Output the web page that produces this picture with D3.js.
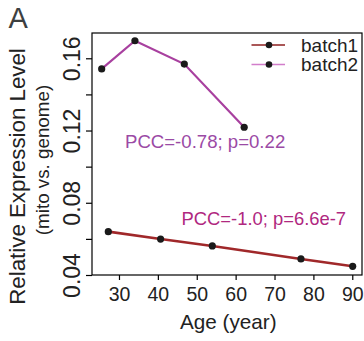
<!DOCTYPE html>
<html><head><meta charset="utf-8">
<script src="https://cdn.jsdelivr.net/npm/d3@7"></script>
<style>
body{margin:0;background:#fff;}
svg{display:block;font-family:"Liberation Sans",Arial,Helvetica,sans-serif;}
</style></head>
<body><svg id="c" width="364" height="341"></svg>
<script>
const batch1Ages = [27.25, 40.7, 54, 76.8, 90.1];
const batch1Vals = [0.0640, 0.0599, 0.0561, 0.0489, 0.0448];
const batch2Ages = [25.55, 34.1, 46.8, 62.2];
const batch2Vals = [0.1541, 0.1697, 0.1568, 0.1218];
const xTicks = [30, 40, 50, 60, 70, 80, 90];
const yTicks = [0.04, 0.06, 0.08, 0.10, 0.12, 0.14, 0.16];
const yLabels = [0.04, 0.08, 0.12, 0.16];
const seriesNames = ["batch1", "batch2"];
const pccTexts = ["PCC=-0.78; p=0.22", "PCC=-1.0; p=6.6e-7"];

const svg = d3.select("#c");
const L = 92, R = 362, T = 33, B = 275;
const x = d3.scaleLinear().domain([23.06, 92.5]).range([L, R]);
const y = d3.scaleLinear().domain([0.04, 0.174]).range([B, T]);

const red = "#a0282a", purple = "#a8409f";

// box
svg.append("rect").attr("x", L).attr("y", T).attr("width", R - L).attr("height", B - T)
  .attr("fill", "none").attr("stroke", "#000").attr("stroke-width", 1.2);

// x axis
const gx = svg.append("g").attr("transform", `translate(0,${B})`)
  .call(d3.axisBottom(x).tickValues(xTicks).tickSize(5).tickSizeOuter(0).tickFormat(d3.format("d")));
gx.select(".domain").remove();
gx.selectAll(".tick line").attr("stroke", "#000").attr("stroke-width", 1.2);
gx.selectAll(".tick text").attr("font-size", "19.5px").attr("fill", "#222")
  .attr("y", 26).attr("dy", null).attr("font-family", "Liberation Sans, Arial, sans-serif");

// y axis
const gy = svg.append("g").attr("transform", `translate(${L},0)`)
  .call(d3.axisLeft(y).tickValues(yTicks).tickSize(6).tickSizeOuter(0)
    .tickFormat(d => yLabels.some(v => Math.abs(v - d) < 1e-9) ? d3.format(".2f")(d) : ""));
gy.select(".domain").remove();
gy.selectAll(".tick line").attr("stroke", "#000").attr("stroke-width", 1.2);
gy.selectAll(".tick text").attr("font-size", "23px").attr("fill", "#222")
  .attr("font-family", "Liberation Sans, Arial, sans-serif")
  .attr("text-anchor", "middle").attr("dy", null).attr("x", null)
  .attr("transform", "translate(-12,0) rotate(-90)");

// lines
const line = d3.line().x(d => x(d[0])).y(d => y(d[1]));
const b1 = batch1Ages.map((a, i) => [a, batch1Vals[i]]);
const b2 = batch2Ages.map((a, i) => [a, batch2Vals[i]]);
svg.append("path").datum(b2).attr("d", line).attr("fill", "none").attr("stroke", purple).attr("stroke-width", 2.2);
svg.append("path").datum(b1).attr("d", line).attr("fill", "none").attr("stroke", red).attr("stroke-width", 2.6);
svg.append("g").selectAll("circle").data(b2.concat(b1)).join("circle")
  .attr("cx", d => x(d[0])).attr("cy", d => y(d[1])).attr("r", 3.6).attr("fill", "#1a1a1a");

// annotations
svg.append("text").attr("x", 125).attr("y", 147.5).attr("font-size", "18.6px").attr("fill", "#9b4aa5").text(pccTexts[0]);
svg.append("text").attr("x", 181.5).attr("y", 225).attr("font-size", "18.4px").attr("fill", "#b0287f").text(pccTexts[1]);

// legend
const legColors = ["#8e1f1f", "#d27ecb"];
const legY = [45, 64.5];
seriesNames.forEach((n, i) => {
  svg.append("line").attr("x1", 251.5).attr("x2", 285).attr("y1", legY[i]).attr("y2", legY[i])
    .attr("stroke", legColors[i]).attr("stroke-width", 1.6);
  svg.append("circle").attr("cx", 269).attr("cy", legY[i]).attr("r", 3.3).attr("fill", "#1a1a1a");
  svg.append("text").attr("x", 301).attr("y", legY[i] + 6.5).attr("font-size", "19px").attr("fill", "#222").text(n);
});

// axis titles
svg.append("text").attr("x", 228.3).attr("y", 328.5).attr("text-anchor", "middle")
  .attr("font-size", "20.7px").attr("fill", "#222").text("Age (year)");
svg.append("text").attr("transform", "translate(24.5,176.5) rotate(-90)").attr("text-anchor", "middle")
  .attr("font-size", "22.3px").attr("fill", "#222").text("Relative Expression Level");
svg.append("text").attr("transform", "translate(48.5,160) rotate(-90)").attr("text-anchor", "middle")
  .attr("font-size", "18.8px").attr("fill", "#222").text("(mito vs. genome)");

// panel letter
svg.append("text").attr("x", 8.5).attr("y", 28).attr("font-size", "29px").attr("fill", "#3d4040").text("A");
</script></body></html>
